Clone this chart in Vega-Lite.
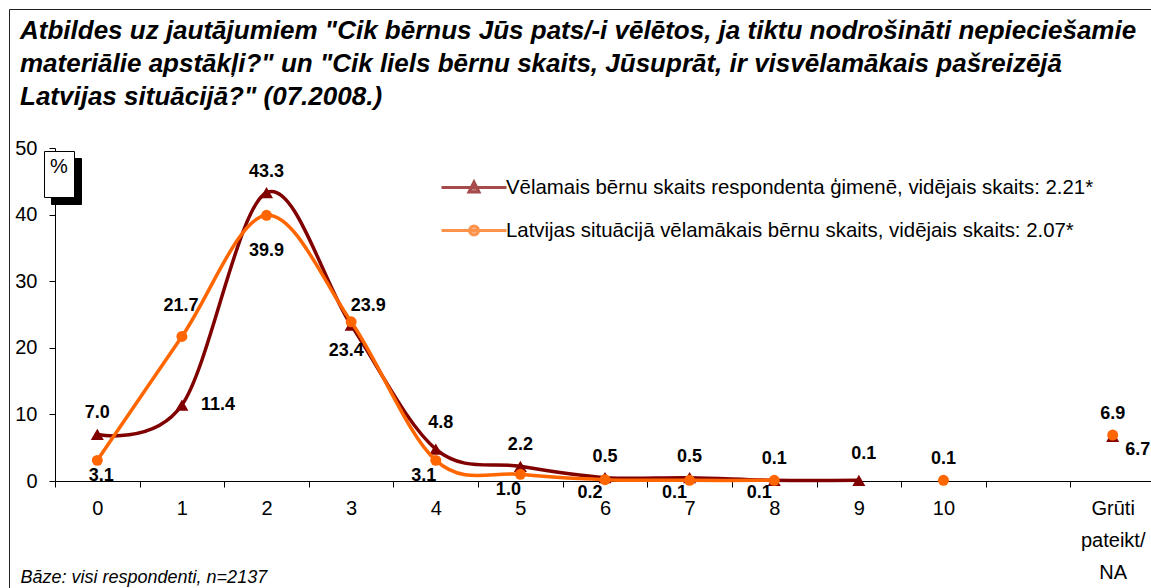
{
  "$schema": "https://vega.github.io/schema/vega-lite/v6.json",
  "width": 1096,
  "height": 333,
  "autosize": {"type": "none"},
  "padding": {"left": 55, "top": 148, "right": 0, "bottom": 107},
  "background": "white",
  "config": {
    "view": {"stroke": null},
    "font": "Liberation Sans",
    "text": {"font": "Liberation Sans", "fontSize": 18, "fontWeight": "bold", "color": "black", "align": "center", "baseline": "middle"}
  },
  "title": {
    "text": [
      "Atbildes uz jautājumiem \"Cik bērnus Jūs pats/-i vēlētos, ja tiktu nodrošināti nepieciešamie",
      "materiālie apstākļi?\" un \"Cik liels bērnu skaits, Jūsuprāt, ir visvēlamākais pašreizējā",
      "Latvijas situācijā?\" (07.2008.)"
    ],
    "anchor": "start",
    "frame": "group",
    "dx": -35,
    "offset": -101,
    "font": "Liberation Sans",
    "fontSize": 26,
    "fontWeight": "bold",
    "fontStyle": "italic",
    "lineHeight": 33,
    "color": "black"
  },
  "data": {
    "values": [
      {"s": "Vēlamais bērnu skaits respondenta ģimenē, vidējais skaits: 2.21*", "k": "0", "v": 7.0},
      {"s": "Vēlamais bērnu skaits respondenta ģimenē, vidējais skaits: 2.21*", "k": "1", "v": 11.4},
      {"s": "Vēlamais bērnu skaits respondenta ģimenē, vidējais skaits: 2.21*", "k": "2", "v": 43.3},
      {"s": "Vēlamais bērnu skaits respondenta ģimenē, vidējais skaits: 2.21*", "k": "3", "v": 23.4},
      {"s": "Vēlamais bērnu skaits respondenta ģimenē, vidējais skaits: 2.21*", "k": "4", "v": 4.8},
      {"s": "Vēlamais bērnu skaits respondenta ģimenē, vidējais skaits: 2.21*", "k": "5", "v": 2.2},
      {"s": "Vēlamais bērnu skaits respondenta ģimenē, vidējais skaits: 2.21*", "k": "6", "v": 0.5},
      {"s": "Vēlamais bērnu skaits respondenta ģimenē, vidējais skaits: 2.21*", "k": "7", "v": 0.5},
      {"s": "Vēlamais bērnu skaits respondenta ģimenē, vidējais skaits: 2.21*", "k": "8", "v": 0.1},
      {"s": "Vēlamais bērnu skaits respondenta ģimenē, vidējais skaits: 2.21*", "k": "9", "v": 0.1},
      {"s": "Vēlamais bērnu skaits respondenta ģimenē, vidējais skaits: 2.21*", "k": "Grūti pateikt/NA", "v": 6.7},
      {"s": "Latvijas situācijā vēlamākais bērnu skaits, vidējais skaits: 2.07*", "k": "0", "v": 3.1},
      {"s": "Latvijas situācijā vēlamākais bērnu skaits, vidējais skaits: 2.07*", "k": "1", "v": 21.7},
      {"s": "Latvijas situācijā vēlamākais bērnu skaits, vidējais skaits: 2.07*", "k": "2", "v": 39.9},
      {"s": "Latvijas situācijā vēlamākais bērnu skaits, vidējais skaits: 2.07*", "k": "3", "v": 23.9},
      {"s": "Latvijas situācijā vēlamākais bērnu skaits, vidējais skaits: 2.07*", "k": "4", "v": 3.1},
      {"s": "Latvijas situācijā vēlamākais bērnu skaits, vidējais skaits: 2.07*", "k": "5", "v": 1.0},
      {"s": "Latvijas situācijā vēlamākais bērnu skaits, vidējais skaits: 2.07*", "k": "6", "v": 0.2},
      {"s": "Latvijas situācijā vēlamākais bērnu skaits, vidējais skaits: 2.07*", "k": "7", "v": 0.1},
      {"s": "Latvijas situācijā vēlamākais bērnu skaits, vidējais skaits: 2.07*", "k": "8", "v": 0.1},
      {"s": "Latvijas situācijā vēlamākais bērnu skaits, vidējais skaits: 2.07*", "k": "10", "v": 0.1},
      {"s": "Latvijas situācijā vēlamākais bērnu skaits, vidējais skaits: 2.07*", "k": "Grūti pateikt/NA", "v": 6.9}
    ]
  },
  "encoding": {
    "x": {
      "field": "k",
      "type": "ordinal",
      "sort": null,
      "scale": {
        "type": "band",
        "domain": ["0", "1", "2", "3", "4", "5", "6", "7", "8", "9", "10", " ", "Grūti pateikt/NA"],
        "range": [0, 1100],
        "paddingInner": 0,
        "paddingOuter": 0
      },
      "axis": {
        "title": "Bāze: visi respondenti, n=2137",
        "titleFont": "Liberation Sans",
        "titleFontSize": 18,
        "titleFontStyle": "italic",
        "titleFontWeight": "normal",
        "titleColor": "black",
        "titleAlign": "left",
        "titleAnchor": "start",
        "titleX": -35,
        "titleY": 101,
        "titleBaseline": "alphabetic",
        "labelAngle": 0,
        "labelFont": "Liberation Sans",
        "labelFontSize": 20,
        "labelColor": "black",
        "labelPadding": 11,
        "labelBaseline": "top",
        "labelLineHeight": 32,
        "labelExpr": "datum.value == 'Grūti pateikt/NA' ? ['Grūti', 'pateikt/', 'NA'] : datum.label",
        "tickBand": "extent",
        "tickSize": 6,
        "tickColor": "black",
        "domainColor": "black",
        "grid": false
      }
    },
    "y": {
      "field": "v",
      "type": "quantitative",
      "scale": {"domain": [0, 50]},
      "axis": {
        "title": null,
        "values": [0, 10, 20, 30, 40, 50],
        "labelFont": "Liberation Sans",
        "labelFontSize": 20,
        "labelColor": "black",
        "labelPadding": 12,
        "tickSize": 6,
        "tickColor": "black",
        "domainColor": "black",
        "grid": false
      }
    }
  },
  "layer": [
    {
      "transform": [{"filter": "indexof(datum.s,'Vēl')==0 && datum.k != 'Grūti pateikt/NA'"}],
      "mark": {"type": "line", "interpolate": "cardinal", "color": "#800000", "strokeWidth": 3.5}
    },
    {
      "transform": [{"filter": "indexof(datum.s,'Vēl')==0"}],
      "mark": {"type": "point", "shape": "triangle-up", "filled": true, "color": "#800000", "size": 170, "opacity": 1}
    },
    {
      "transform": [{"filter": "indexof(datum.s,'Lat')==0 && datum.k != 'Grūti pateikt/NA' && datum.k != '10'"}],
      "mark": {"type": "line", "interpolate": "cardinal", "color": "#FF6600", "strokeWidth": 3.5}
    },
    {
      "transform": [{"filter": "indexof(datum.s,'Lat')==0"}],
      "mark": {"type": "point", "shape": "circle", "filled": true, "color": "#FF6600", "size": 120, "opacity": 1}
    },
    {
      "transform": [{"filter": "indexof(datum.s,'Vēl')==0 && indexof(['0','2','5','6','7','8'], datum.k) >= 0"}],
      "mark": {"type": "text", "dy": -21},
      "encoding": {"text": {"field": "v", "type": "quantitative", "format": ".1f"}}
    },
    {
      "transform": [{"filter": "indexof(datum.s,'Vēl')==0 && indexof(['4','9'], datum.k) >= 0"}],
      "mark": {"type": "text", "dx": 5, "dy": -26},
      "encoding": {"text": {"field": "v", "type": "quantitative", "format": ".1f"}}
    },
    {
      "transform": [{"filter": "indexof(datum.s,'Vēl')==0 && datum.k == '1'"}],
      "mark": {"type": "text", "dx": 36, "dy": 0},
      "encoding": {"text": {"field": "v", "type": "quantitative", "format": ".1f"}}
    },
    {
      "transform": [{"filter": "indexof(datum.s,'Vēl')==0 && datum.k == '3'"}],
      "mark": {"type": "text", "dx": -5, "dy": 26},
      "encoding": {"text": {"field": "v", "type": "quantitative", "format": ".1f"}}
    },
    {
      "transform": [{"filter": "indexof(datum.s,'Vēl')==0 && datum.k == 'Grūti pateikt/NA'"}],
      "mark": {"type": "text", "dx": 25, "dy": 14},
      "encoding": {"text": {"field": "v", "type": "quantitative", "format": ".1f"}}
    },
    {
      "transform": [{"filter": "indexof(datum.s,'Lat')==0 && datum.k == '0'"}],
      "mark": {"type": "text", "dx": 4, "dy": 16},
      "encoding": {"text": {"field": "v", "type": "quantitative", "format": ".1f"}}
    },
    {
      "transform": [{"filter": "indexof(datum.s,'Lat')==0 && indexof(['10','Grūti pateikt/NA'], datum.k) >= 0"}],
      "mark": {"type": "text", "dy": -21},
      "encoding": {"text": {"field": "v", "type": "quantitative", "format": ".1f"}}
    },
    {
      "transform": [{"filter": "indexof(datum.s,'Lat')==0 && datum.k == '1'"}],
      "mark": {"type": "text", "dx": -1, "dy": -30},
      "encoding": {"text": {"field": "v", "type": "quantitative", "format": ".1f"}}
    },
    {
      "transform": [{"filter": "indexof(datum.s,'Lat')==0 && datum.k == '2'"}],
      "mark": {"type": "text", "dy": 36},
      "encoding": {"text": {"field": "v", "type": "quantitative", "format": ".1f"}}
    },
    {
      "transform": [{"filter": "indexof(datum.s,'Lat')==0 && datum.k == '3'"}],
      "mark": {"type": "text", "dx": 17, "dy": -16},
      "encoding": {"text": {"field": "v", "type": "quantitative", "format": ".1f"}}
    },
    {
      "transform": [{"filter": "indexof(datum.s,'Lat')==0 && indexof(['4','5'], datum.k) >= 0"}],
      "mark": {"type": "text", "dx": -12, "dy": 16},
      "encoding": {"text": {"field": "v", "type": "quantitative", "format": ".1f"}}
    },
    {
      "transform": [{"filter": "indexof(datum.s,'Lat')==0 && indexof(['6','7','8'], datum.k) >= 0"}],
      "mark": {"type": "text", "dx": -15, "dy": 13},
      "encoding": {"text": {"field": "v", "type": "quantitative", "format": ".1f"}}
    },
    {
      "transform": [{"filter": "false"}],
      "mark": {"type": "point"},
      "encoding": {
        "fill": {
          "field": "s", "type": "nominal",
          "scale": {"domain": ["Vēlamais bērnu skaits respondenta ģimenē, vidējais skaits: 2.21*", "Latvijas situācijā vēlamākais bērnu skaits, vidējais skaits: 2.07*"], "range": ["#800000", "#FF6600"]},
          "legend": {"orient": "none", "legendX": 407.5, "legendY": 28, "title": null, "symbolSize": 400, "symbolStrokeWidth": 3, "labelFont": "Liberation Sans", "labelFontSize": 20.4, "labelColor": "black", "labelOffset": 20.5, "rowPadding": 21, "padding": 0, "labelLimit": 900}
        },
        "stroke": {
          "field": "s", "type": "nominal",
          "scale": {"domain": ["Vēlamais bērnu skaits respondenta ģimenē, vidējais skaits: 2.21*", "Latvijas situācijā vēlamākais bērnu skaits, vidējais skaits: 2.07*"], "range": ["#800000", "#FF6600"]},
          "legend": {"orient": "none", "legendX": 407.5, "legendY": 28, "title": null, "symbolSize": 400, "symbolStrokeWidth": 3, "labelFont": "Liberation Sans", "labelFontSize": 20.4, "labelColor": "black", "labelOffset": 20.5, "rowPadding": 21, "padding": 0, "labelLimit": 900}
        },
        "shape": {
          "field": "s", "type": "nominal",
          "scale": {"domain": ["Vēlamais bērnu skaits respondenta ģimenē, vidējais skaits: 2.21*", "Latvijas situācijā vēlamākais bērnu skaits, vidējais skaits: 2.07*"], "range": ["M-3.25,0H3.25M-0.5,0.45L0,-0.55L0.5,0.45Z", "M-3.25,0H3.25M0.45,0A0.45,0.45,0,1,1,-0.45,0A0.45,0.45,0,1,1,0.45,0Z"]},
          "legend": {"orient": "none", "legendX": 407.5, "legendY": 28, "title": null, "symbolSize": 400, "symbolStrokeWidth": 3, "labelFont": "Liberation Sans", "labelFontSize": 20.4, "labelColor": "black", "labelOffset": 20.5, "rowPadding": 21, "padding": 0, "labelLimit": 900}
        },
        "strokeDash": {
          "field": "u1", "type": "nominal",
          "scale": {"domain": ["  "], "range": [[1, 0]]},
          "legend": {"orient": "none", "legendX": -4, "legendY": 10, "title": "%", "titleFont": "Liberation Sans", "titleFontSize": 20, "titleFontWeight": "normal", "titleColor": "black", "titlePadding": 0, "fillColor": "black", "strokeColor": "black", "padding": 6, "symbolSize": 0, "symbolOpacity": 0, "labelOffset": 0, "labelFont": "Liberation Sans", "labelFontSize": 13, "labelColor": "black"}
        },
        "opacity": {
          "field": "u2", "type": "nominal",
          "scale": {"domain": [" "], "range": [1, 1]},
          "legend": {"orient": "none", "legendX": -11, "legendY": 3, "title": "%", "titleFont": "Liberation Sans", "titleFontSize": 20, "titleFontWeight": "normal", "titleColor": "black", "titlePadding": 0, "fillColor": "white", "strokeColor": "black", "padding": 6, "symbolSize": 0, "symbolOpacity": 0, "labelOffset": 0, "labelFont": "Liberation Sans", "labelFontSize": 13, "labelColor": "black"}
        },
        "strokeWidth": {
          "field": "u3", "type": "nominal",
          "scale": {"domain": ["   "], "range": [1, 1]},
          "legend": {"orient": "none", "legendX": -46, "legendY": -139, "title": null, "strokeColor": "#222222", "padding": 0, "symbolSize": 1440000, "symbolOpacity": 0, "labelOffset": 0, "labelFontSize": 10, "labelColor": "white"}
        }
      }
    }
  ]
}
